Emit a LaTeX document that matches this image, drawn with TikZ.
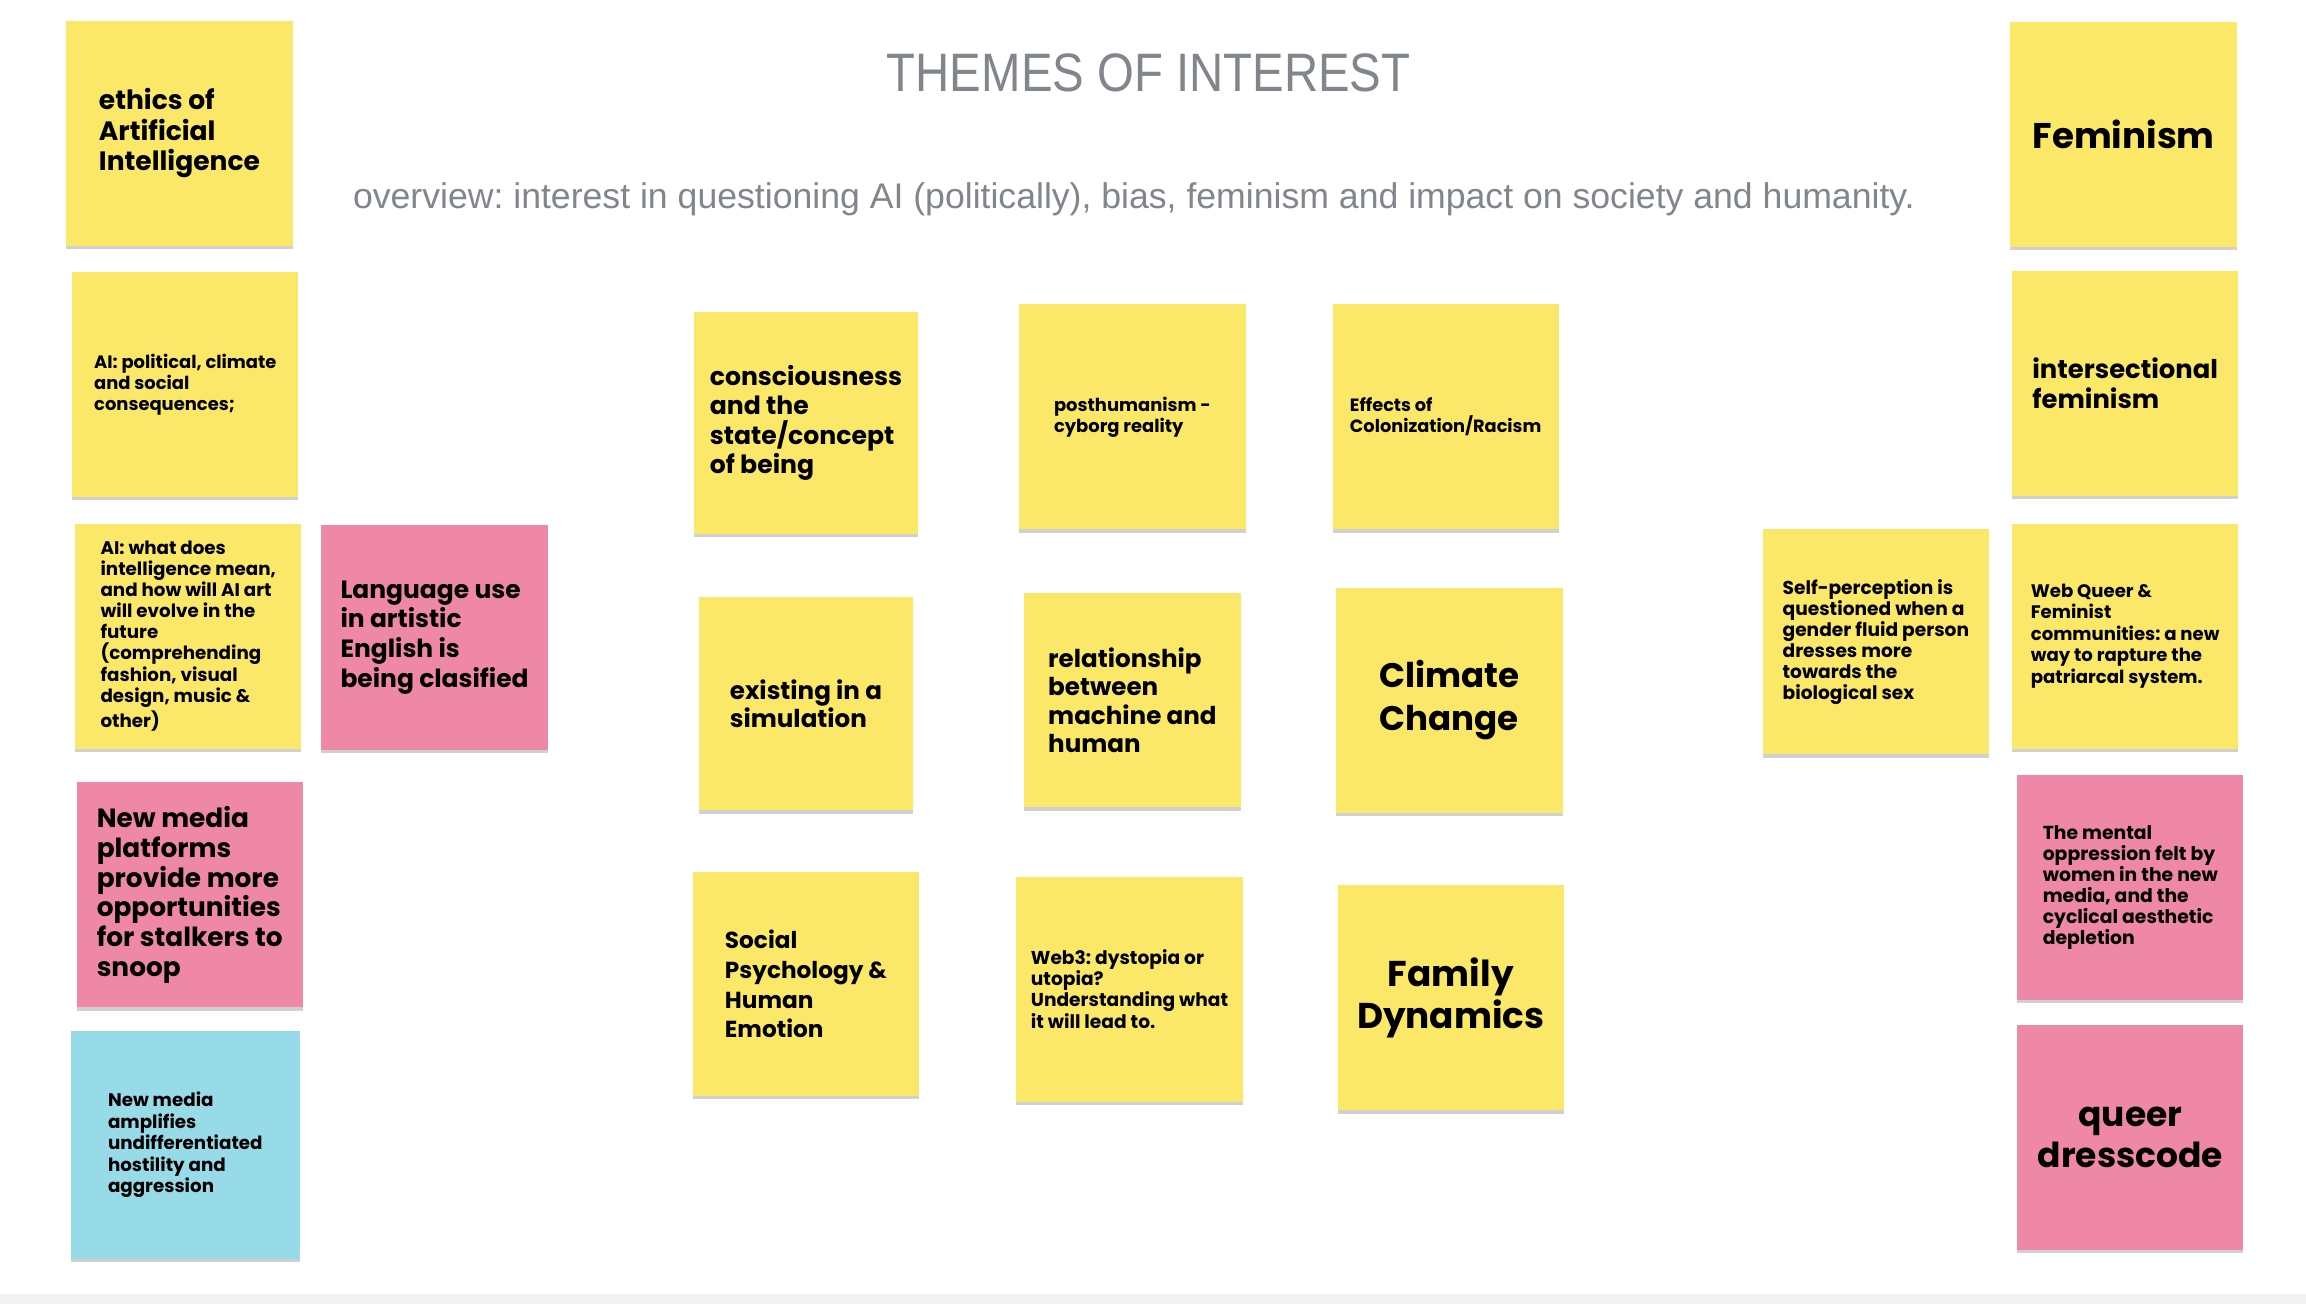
\documentclass[tikz,border=0pt]{standalone}
\usepackage{graphicx}
\usepackage{fontspec}
\setmainfont{Poppins}
\newfontfamily\headfont{Liberation Sans}
\usetikzlibrary{shadows}
\frenchspacing
\definecolor{noteyellow}{RGB}{251,232,104}
\definecolor{notepink}{RGB}{239,135,167}
\definecolor{notecyan}{RGB}{150,219,231}
\definecolor{headgray}{RGB}{128,134,139}
\definecolor{stripgray}{RGB}{242,242,242}
\newcommand{\fs}[2]{\fontsize{#1pt}{#2pt}\selectfont}
\tikzset{
  note/.style={rectangle, inner sep=0pt, minimum width=64.4pt, minimum height=64pt,
    align=left, drop shadow={shadow xshift=0pt, shadow yshift=-0.9pt, opacity=0.3, fill=black!60}},
  yellownote/.style={note, fill=noteyellow},
  pinknote/.style={note, fill=notepink},
  cyannote/.style={note, fill=notecyan},
  heading/.style={anchor=base, inner sep=0pt, text=headgray, font=\headfont}
}

\begin{document}
\begin{tikzpicture}[x=0.4184pt, y=-0.4184pt]
\useasboundingbox (0,0) rectangle (1568,887);
\fill[white] (0,0) rectangle (1568,887);
\fill[stripgray] (0,880) rectangle (1568,887);
% headings
\node[heading] (title) at (781,62.3) {\resizebox{148.9pt}{10.75pt}{THEMES OF INTEREST}};
\node[heading] (overview) at (771,141.5) {\resizebox{444.3pt}{!}{overview: interest in questioning AI (politically), bias, feminism and impact on society and humanity.}};
% left columns
\node[yellownote, font=\bfseries\fs{7.55}{8.6}] (ethics) at (122,90.5) {ethics of\\Artificial\\Intelligence};
\node[yellownote, font=\bfseries\fs{5.1}{5.9}] (aipolitics) at (126,261.5) {AI: political, climate\\and social\\consequences;};
\node[yellownote, font=\bfseries\fs{5.2}{6.0}] (aiintel) at (128,432.5) {AI: what does\\intelligence mean,\\and how will AI art\\will evolve in the\\future\\(comprehending\\fashion, visual\\design, music \&\\other)};
\node[pinknote, font=\bfseries\fs{7.1}{8.5}] (language) at (295.5,433.5) {Language use\\in artistic\\English is\\being clasified};
\node[pinknote, font=\bfseries\fs{7.5}{8.5}] (stalkers) at (129,608.5) {New media\\platforms\\provide more\\opportunities\\for stalkers to\\snoop};
\node[cyannote, minimum width=65.3pt, minimum height=64.9pt, font=\bfseries\fs{5.2}{6.1}] (hostility) at (126,778.5) {New media\\amplifies\\undifferentiated\\hostility and\\aggression};
% middle grid
\node[yellownote, minimum width=63.6pt, minimum height=63.2pt, font=\bfseries\fs{7.15}{8.4}] (conscious) at (548,287.5) {consciousness\\and the\\state/concept\\of being};
\node[yellownote, font=\bfseries\fs{5.1}{5.9}] (posthuman) at (770,283.5) {posthumanism -\\cyborg reality};
\node[yellownote, font=\bfseries\fs{5.05}{5.9}] (colonial) at (983,283.5) {Effects of\\Colonization/Racism};
\node[yellownote, minimum width=61.1pt, minimum height=60.7pt, font=\bfseries\fs{7.0}{7.9}] (simulation) at (548,478.5) {existing in a\\simulation};
\node[yellownote, minimum width=61.9pt, minimum height=61.1pt, font=\bfseries\fs{7.0}{8.1}] (machine) at (770,476) {relationship\\between\\machine and\\human};
\node[yellownote, align=center, font=\bfseries\fs{9.7}{12.1}] (climate) at (985.5,476) {Climate\\Change};
\node[yellownote, minimum width=64.4pt, minimum height=63.6pt, font=\bfseries\fs{6.6}{8.5}] (socialpsy) at (548,669) {Social\\Psychology \&\\Human\\Emotion};
\node[yellownote, font=\bfseries\fs{5.3}{6.0}] (webthree) at (768,672.5) {Web3: dystopia or\\utopia?\\Understanding what\\it will lead to.};
\node[yellownote, align=center, font=\bfseries\fs{10.2}{11.7}] (family) at (986.5,678.5) {Family\\Dynamics};
% right columns
\node[yellownote, align=center, font=\bfseries\fs{10.15}{12}] (feminism) at (1444,91.5) {Feminism};
\node[yellownote, font=\bfseries\fs{7.35}{8.4}] (intersect) at (1445,260.5) {intersectional\\feminism};
\node[yellownote, font=\bfseries\fs{5.3}{6.0}] (selfperc) at (1275.5,436.5) {Self-perception is\\questioned when a\\gender fluid person\\dresses more\\towards the\\biological sex};
\node[yellownote, font=\bfseries\fs{5.15}{6.1}] (webqueer) at (1445,432.5) {Web Queer \&\\Feminist\\communities: a new\\way to rapture the\\patriarcal system.};
\node[pinknote, font=\bfseries\fs{5.35}{6.0}] (oppression) at (1448.5,603.5) {The mental\\oppression felt by\\women in the new\\media, and the\\cyclical aesthetic\\depletion};
\node[pinknote, align=center, font=\bfseries\fs{9.8}{11.7}] (dresscode) at (1448.5,773.5) {queer\\dresscode};
\end{tikzpicture}
\end{document}
